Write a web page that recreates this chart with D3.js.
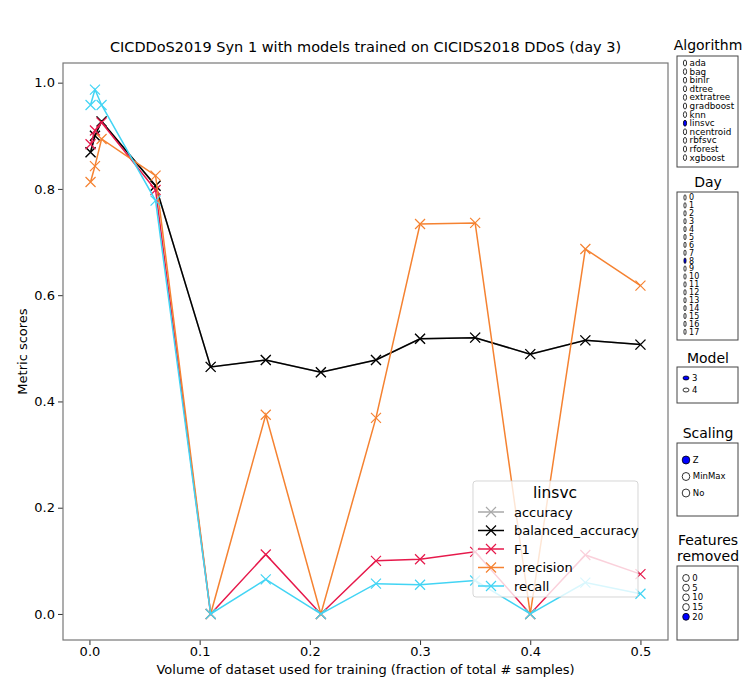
<!DOCTYPE html>
<html>
<head>
<meta charset="utf-8">
<script src="https://cdn.jsdelivr.net/npm/d3@7"></script>
<style>
  body { margin: 0; background: #fff; }
  text { font-family: "DejaVu Sans", sans-serif; }
</style>
</head>
<body>
<div id="chart"></div>
<script>
// data
const volumes = [0.001, 0.005, 0.011, 0.06, 0.11, 0.16, 0.21, 0.26, 0.3, 0.35, 0.4, 0.45, 0.5]
const accuracy = [0.869, 0.900, 0.927, 0.806, 0.465, 0.478, 0.455, 0.478, 0.518, 0.520, 0.489, 0.515, 0.507]
const balancedAccuracy = [0.869, 0.900, 0.927, 0.806, 0.465, 0.478, 0.455, 0.478, 0.518, 0.520, 0.489, 0.515, 0.507]
const f1 = [0.884, 0.910, 0.925, 0.798, 0.0, 0.112, 0.0, 0.100, 0.103, 0.117, 0.0, 0.111, 0.075]
const precision = [0.813, 0.843, 0.894, 0.825, 0.0, 0.375, 0.0, 0.369, 0.734, 0.736, 0.0, 0.687, 0.618]
const recall = [0.958, 0.987, 0.958, 0.778, 0.0, 0.065, 0.0, 0.057, 0.055, 0.063, 0.0, 0.059, 0.038]
const xTicks = [0, 0.1, 0.2, 0.3, 0.4, 0.5]
const yTicks = [0, 0.2, 0.4, 0.6, 0.8, 1.0]

const algorithms = ["ada", "bag", "binlr", "dtree", "extratree", "gradboost", "knn", "linsvc", "ncentroid", "rbfsvc", "rforest", "xgboost"]
const days = ["0", "1", "2", "3", "4", "5", "6", "7", "8", "9", "10", "11", "12", "13", "14", "15", "16", "17"]
const models = ["3", "4"]
const scalings = ["Z", "MinMax", "No"]
const featuresRemoved = ["0", "5", "10", "15", "20"]

const series = [
    { name: "accuracy", color: "#a9a9a9", values: accuracy },
    { name: "balanced_accuracy", color: "#000000", values: balancedAccuracy },
    { name: "F1", color: "#e6194b", values: f1 },
    { name: "precision", color: "#f58231", values: precision },
    { name: "recall", color: "#42d4f4", values: recall }
]

const W = 745, H = 678
const plot = { left: 63, right: 668, top: 63, bottom: 640 }

const svg = d3.select("#chart").append("svg")
    .attr("width", W)
    .attr("height", H)

const x = d3.scaleLinear().domain([-0.024, 0.525]).range([plot.left, plot.right])
const y = d3.scaleLinear().domain([-0.049, 1.037]).range([plot.bottom, plot.top])

// axes
const xAxis = svg.append("g")
    .attr("transform", `translate(0,${plot.bottom})`)
    .call(d3.axisBottom(x).tickValues(xTicks).tickFormat(d3.format(".1f")).tickSize(5).tickSizeOuter(0))
const yAxis = svg.append("g")
    .attr("transform", `translate(${plot.left},0)`)
    .call(d3.axisLeft(y).tickValues(yTicks).tickFormat(d3.format(".1f")).tickSize(5).tickSizeOuter(0))

;[xAxis, yAxis].forEach(a => {
    a.select(".domain").remove()
    a.selectAll("line").attr("stroke", "#333")
    a.selectAll("text").attr("font-size", 13).attr("fill", "#000")
        .style("font-family", "DejaVu Sans, sans-serif")
})
xAxis.selectAll("text").attr("y", 7).attr("dy", "0.71em")

// clip for the lines
svg.append("clipPath").attr("id", "clip").append("rect")
    .attr("x", plot.left).attr("y", plot.top)
    .attr("width", plot.right - plot.left).attr("height", plot.bottom - plot.top)

const line = d3.line().x((d, i) => x(volumes[i])).y(d => y(d))
const marks = svg.append("g").attr("clip-path", "url(#clip)")

function cross(g, cx, cy, color) {
    const s = 5
    g.append("path")
        .attr("d", `M${cx - s},${cy - s}L${cx + s},${cy + s}M${cx - s},${cy + s}L${cx + s},${cy - s}`)
        .attr("stroke", color)
        .attr("stroke-width", 1.2)
        .attr("fill", "none")
}

series.forEach(s => {
    const g = marks.append("g")
    g.append("path")
        .datum(s.values)
        .attr("d", line)
        .attr("fill", "none")
        .attr("stroke", s.color)
        .attr("stroke-width", 1.5)
    s.values.forEach((v, i) => cross(g, x(volumes[i]), y(v), s.color))
})

// frame
svg.append("rect")
    .attr("x", plot.left).attr("y", plot.top)
    .attr("width", plot.right - plot.left).attr("height", plot.bottom - plot.top)
    .attr("fill", "none").attr("stroke", "#777").attr("stroke-width", 1.2)

// title and labels
svg.append("text")
    .attr("x", (plot.left + plot.right) / 2).attr("y", 52)
    .attr("text-anchor", "middle").attr("font-size", 14.5)
    .text("CICDDoS2019 Syn 1 with models trained on CICIDS2018 DDoS (day 3)")
svg.append("text")
    .attr("x", (plot.left + plot.right) / 2).attr("y", 674)
    .attr("text-anchor", "middle").attr("font-size", 13)
    .text("Volume of dataset used for training (fraction of total # samples)")
svg.append("text")
    .attr("transform", `translate(27,${(plot.top + plot.bottom) / 2}) rotate(-90)`)
    .attr("text-anchor", "middle").attr("font-size", 13)
    .text("Metric scores")

// legend
const lg = svg.append("g").attr("transform", "translate(473,481)")
lg.append("rect")
    .attr("width", 165).attr("height", 116).attr("rx", 3)
    .attr("fill", "#fff").attr("fill-opacity", 0.8)
    .attr("stroke", "#ccc").attr("stroke-opacity", 0.8)
lg.append("text").attr("x", 82).attr("y", 17).attr("text-anchor", "middle")
    .attr("font-size", 15.5).text("linsvc")
series.forEach((s, i) => {
    const yy = 31 + i * 18.5
    lg.append("line").attr("x1", 5).attr("x2", 31).attr("y1", yy).attr("y2", yy)
        .attr("stroke", s.color).attr("stroke-width", 1.5)
    cross(lg, 18, yy, s.color)
    lg.append("text").attr("x", 41).attr("y", yy + 4.5).attr("font-size", 13).text(s.name)
})

// radio panels on the right
function panel(titleLines, titleY, box, items, selected, opts) {
    titleLines.forEach((t, i) => {
        svg.append("text").attr("x", 708).attr("y", titleY + i * 16)
            .attr("text-anchor", "middle").attr("font-size", 14).text(t)
    })
    svg.append("rect").attr("x", 677).attr("y", box[0]).attr("width", 61).attr("height", box[1] - box[0])
        .attr("fill", "#fff").attr("stroke", "#444").attr("stroke-width", 1)
    items.forEach((it, i) => {
        const yy = opts.y0 + i * opts.step
        svg.append("ellipse").attr("cx", opts.cx).attr("cy", yy)
            .attr("rx", opts.rx).attr("ry", opts.ry)
            .attr("fill", it === selected ? "#0000ff" : "#fff")
            .attr("stroke", "#000").attr("stroke-width", 0.8)
        svg.append("text").attr("x", opts.cx + opts.rx + 3).attr("y", yy + opts.fs * 0.35)
            .attr("font-size", opts.fs).text(it)
    })
}

panel(["Algorithm"], 50, [56, 167], algorithms, "linsvc",
    { y0: 63, step: 8.6, cx: 685, rx: 1.6, ry: 3, fs: 8.8 })
panel(["Day"], 187, [192, 340], days, "8",
    { y0: 197.5, step: 7.9, cx: 685, rx: 1.1, ry: 2.8, fs: 8 })
panel(["Model"], 363, [367, 403], models, "3",
    { y0: 378, step: 12, cx: 686, rx: 3, ry: 2, fs: 8.5 })
panel(["Scaling"], 438, [443, 516], scalings, "Z",
    { y0: 460, step: 16.5, cx: 686, rx: 3.8, ry: 4, fs: 8.5 })
panel(["Features", "removed"], 545, [566, 640], featuresRemoved, "20",
    { y0: 578, step: 9.7, cx: 686, rx: 3.3, ry: 3.5, fs: 8.5 })
</script>
</body>
</html>
